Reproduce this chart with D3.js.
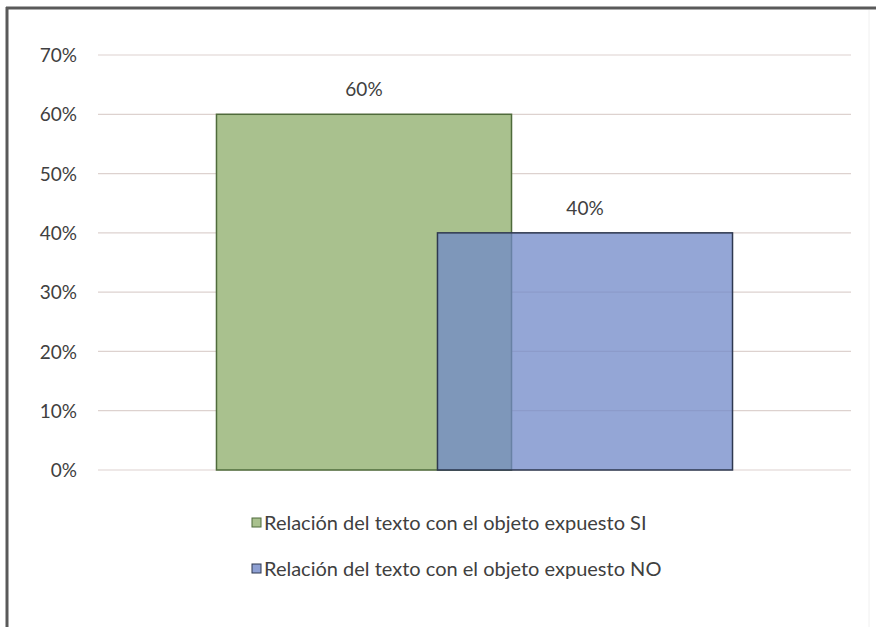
<!DOCTYPE html>
<html>
<head>
<meta charset="utf-8">
<script src="https://cdn.jsdelivr.net/npm/d3@7"></script>
<style>
  html, body { margin: 0; padding: 0; background: #ffffff; }
  svg { display: block; }
</style>
</head>
<body>
<svg id="chart" width="876" height="627"></svg>
<script>
const categories = ["Relación del texto con el objeto expuesto SI", "Relación del texto con el objeto expuesto NO"];
const values = [0.60, 0.40];
const colors = ["#a9c18e", "#7088c8"];
const strokes = ["#4f6b3b", "#2e3850"];
const yTicks = [0, 0.1, 0.2, 0.3, 0.4, 0.5, 0.6, 0.7];

const svg = d3.select("#chart");
const W = 876, H = 627;
const font = "Lato, 'Open Sans', sans-serif";

// Frame (left and top edges visible)
svg.append("line").attr("x1", 7).attr("x2", 7).attr("y1", 7).attr("y2", H)
  .attr("stroke", "#5a5a5a").attr("stroke-width", 3);
svg.append("line").attr("x1", 6).attr("x2", W).attr("y1", 8).attr("y2", 8)
  .attr("stroke", "#5a5a5a").attr("stroke-width", 3);
svg.append("line").attr("x1", 869).attr("x2", 869).attr("y1", 10).attr("y2", H)
  .attr("stroke", "#f0f0f0").attr("stroke-width", 1);

const plot = { left: 98, right: 851, top: 55, bottom: 470 };

const y = d3.scaleLinear().domain([0, 0.7]).range([plot.bottom, plot.top]);
const x = d3.scaleBand().domain(categories).range([plot.left, plot.right])
  .paddingInner(0).paddingOuter(0.7036);
const barW = x.bandwidth() * 1.335;

// Gridlines
svg.append("g").selectAll("line").data(yTicks).join("line")
  .attr("x1", plot.left).attr("x2", plot.right)
  .attr("y1", d => y(d)).attr("y2", d => y(d))
  .attr("stroke", "#ddd2cf").attr("stroke-width", 1.2);

// Y axis labels
const yAxis = d3.axisLeft(y).tickValues(yTicks).tickFormat(d3.format(".0%")).tickSize(0).tickPadding(0);
const gy = svg.append("g").attr("transform", `translate(${plot.left - 21},0)`).call(yAxis);
gy.select(".domain").remove();
gy.selectAll("text").attr("font-family", font).attr("font-size", 19).attr("fill", "#404040")
  .attr("dy", "0.35em");

// Bars
const center = d => x(d) + x.bandwidth() / 2;
svg.append("g").selectAll("rect").data(categories).join("rect")
  .attr("x", d => center(d) - barW / 2)
  .attr("y", (d, i) => y(values[i]))
  .attr("width", barW)
  .attr("height", (d, i) => y(0) - y(values[i]))
  .attr("fill", (d, i) => colors[i])
  .attr("fill-opacity", (d, i) => i === 0 ? 1 : 0.75)
  .attr("stroke", (d, i) => strokes[i])
  .attr("stroke-width", 1.5);

// Value labels
svg.append("g").selectAll("text").data(categories).join("text")
  .attr("x", d => center(d))
  .attr("y", (d, i) => y(values[i]) - 18)
  .attr("text-anchor", "middle")
  .attr("font-family", font).attr("font-size", 19).attr("fill", "#404040")
  .text((d, i) => d3.format(".0%")(values[i]));

// Legend
const leg = svg.append("g");
const legY = d3.scalePoint().domain(categories).range([523, 569]);
leg.selectAll("rect").data(categories).join("rect")
  .attr("x", 252).attr("y", d => legY(d) - 5)
  .attr("width", 9).attr("height", 9)
  .attr("fill", (d, i) => i === 0 ? colors[0] : "#8ea0d3")
  .attr("stroke", (d, i) => strokes[i]).attr("stroke-width", 1);
leg.selectAll("text").data(categories).join("text")
  .attr("x", 264).attr("y", d => legY(d)).attr("dy", "0.35em")
  .attr("font-family", font).attr("font-size", 20).attr("fill", "#404040")
  .text(d => d);
</script>
</body>
</html>
